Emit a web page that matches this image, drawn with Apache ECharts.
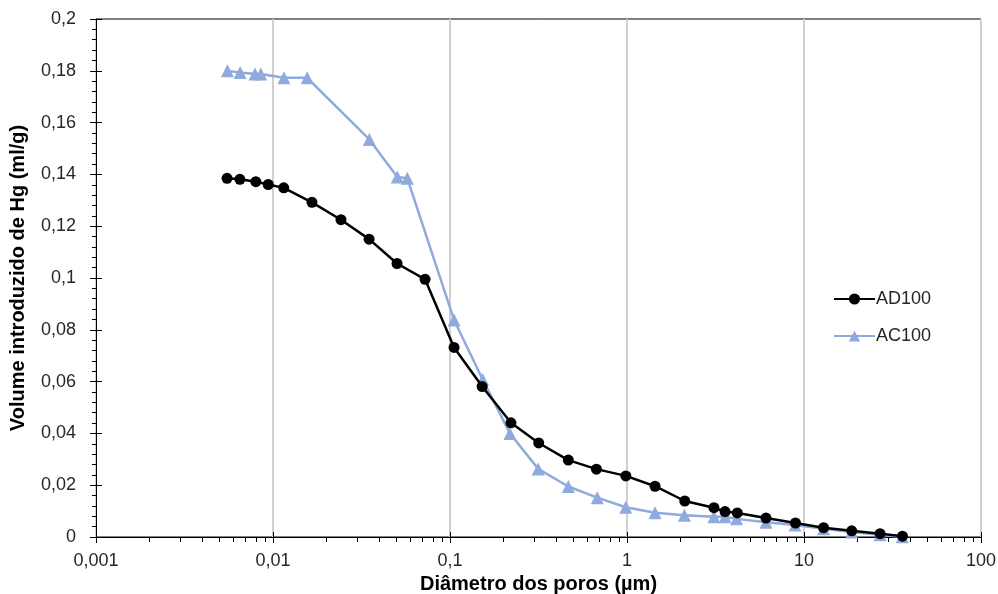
<!DOCTYPE html>
<html>
<head>
<meta charset="utf-8">
<script src="https://cdn.jsdelivr.net/npm/echarts@6/dist/echarts.min.js"></script>
<style>
html,body{margin:0;padding:0;background:#fff;}
#chart{width:998px;height:594px;}
</style>
</head>
<body>
<div id="chart"></div>
<script>
// ---- data ----
var seriesNames = ['AD100', 'AC100'];
var diamAD = [0.0055, 0.0065, 0.0080, 0.0094, 0.0115, 0.0166, 0.0242, 0.0349, 0.0502, 0.0723, 0.1054, 0.152, 0.221, 0.317, 0.466, 0.672, 0.985, 1.44, 2.12, 3.10, 3.58, 4.20, 6.1, 8.95, 12.9, 18.6, 26.9, 36.0];
var volAD  = [0.1385, 0.1381, 0.1372, 0.1361, 0.1348, 0.1292, 0.1225, 0.1150, 0.1056, 0.0995, 0.0732, 0.0581, 0.0441, 0.0363, 0.0297, 0.0262, 0.0236, 0.0196, 0.0139, 0.0113, 0.0098, 0.0093, 0.0073, 0.0054, 0.0036, 0.0024, 0.0013, 0.0003];
var diamAC = [0.00553, 0.00652, 0.00791, 0.00853, 0.01153, 0.0156, 0.035, 0.0504, 0.0574, 0.1054, 0.153, 0.218, 0.315, 0.466, 0.679, 0.984, 1.44, 2.11, 3.10, 3.58, 4.16, 6.1, 8.9, 12.9, 18.6, 26.9, 35.9];
var volAC  = [0.1800, 0.1793, 0.1788, 0.1788, 0.1773, 0.1773, 0.1535, 0.1390, 0.1385, 0.0838, 0.0608, 0.0400, 0.0263, 0.0195, 0.0152, 0.0115, 0.0094, 0.0084, 0.0078, 0.0078, 0.0070, 0.0057, 0.0046, 0.0032, 0.0019, 0.0009, 0.0001];
var xTickLabels = ['0,001', '0,01', '0,1', '1', '10', '100'];
var yTickLabels = ['0', '0,02', '0,04', '0,06', '0,08', '0,1', '0,12', '0,14', '0,16', '0,18', '0,2'];
var xTitle = 'Diâmetro dos poros (µm)';
var yTitle = 'Volume introduzido de Hg (ml/g)';

// ---- build ----
function pairs(xs, ys) { return xs.map(function (x, i) { return [x, ys[i]]; }); }
var decadeExps = [-3, -2, -1, 0, 1];
var minorXLog = [];
decadeExps.forEach(function (e) { for (var k = 2; k <= 9; k++) minorXLog.push(e + Math.log10(k)); });
function fmtX(v) {
  var e = Math.round(Math.log10(v)) + 3;
  return xTickLabels[e] !== undefined ? xTickLabels[e] : '';
}
function fmtY(v) {
  var i = Math.round(v / 0.02);
  return yTickLabels[i] !== undefined ? yTickLabels[i] : '';
}
var FONT = 'Liberation Sans';
var chart = echarts.init(document.getElementById('chart'), null, {renderer: 'canvas'});
chart.setOption({
  animation: false,
  backgroundColor: '#fff',
  grid: {left: 96, right: 17, top: 19, bottom: 57, containLabel: false, outerBoundsMode: 'none',
         show: true, borderColor: '#000', borderWidth: 1, backgroundColor: 'transparent'},
  legend: {
    orient: 'vertical', left: 828, top: 285, itemWidth: 41, itemHeight: 14, itemGap: 19,
    textStyle: {fontFamily: FONT, fontSize: 18, color: '#262626', padding: [0, 0, 0, -4]},
    data: seriesNames
  },
  xAxis: [{
    type: 'log', logBase: 10, min: 0.001, max: 100, position: 'bottom',
    name: xTitle, nameLocation: 'middle', nameGap: 37,
    nameTextStyle: {fontFamily: FONT, fontSize: 20, fontWeight: 'bold', color: '#000'},
    axisLine: {show: true, onZero: false, lineStyle: {color: '#000', width: 1}},
    axisTick: {show: true, length: 6, lineStyle: {color: '#000', width: 1}},
    axisLabel: {fontFamily: FONT, fontSize: 18, color: '#262626', margin: 15, formatter: fmtX},
    splitLine: {show: true, lineStyle: {color: '#d0d0d0', width: 2}},
    minorTick: {show: false}
  }, {
    type: 'log', logBase: 10, min: 0.001, max: 100, position: 'bottom',
    axisLine: {show: false, onZero: false}, axisLabel: {show: false}, splitLine: {show: false},
    axisTick: {show: true, inside: true, length: 5, lineStyle: {color: '#000', width: 1}}
  }, {
    type: 'value', min: -3, max: 2, position: 'bottom',
    axisLine: {show: false, onZero: false}, axisLabel: {show: false}, splitLine: {show: false},
    axisTick: {show: true, length: 5, customValues: minorXLog, lineStyle: {color: '#000', width: 1}}
  }],
  yAxis: [{
    type: 'value', min: 0, max: 0.2, interval: 0.02, position: 'left',
    name: yTitle, nameLocation: 'middle', nameGap: 68,
    nameTextStyle: {fontFamily: FONT, fontSize: 20, fontWeight: 'bold', color: '#000'},
    axisLine: {show: true, onZero: false, lineStyle: {color: '#000', width: 1}},
    axisTick: {show: true, length: 6, lineStyle: {color: '#000', width: 1}},
    minorTick: {show: true, splitNumber: 5, length: 4, lineStyle: {color: '#000', width: 1}},
    axisLabel: {fontFamily: FONT, fontSize: 18, color: '#262626', margin: 20, formatter: fmtY},
    splitLine: {show: false}
  }, {
    type: 'value', min: 0, max: 0.2, interval: 0.02, position: 'left',
    axisLine: {show: false, onZero: false}, axisLabel: {show: false}, splitLine: {show: false},
    axisTick: {show: true, inside: true, length: 6, lineStyle: {color: '#000', width: 1}}
  }],
  series: [{
    name: seriesNames[0], type: 'line', xAxisIndex: 0, yAxisIndex: 0,
    data: pairs(diamAD, volAD),
    symbol: 'circle', symbolSize: 11,
    itemStyle: {color: '#000'}, lineStyle: {color: '#000', width: 2.5},
    z: 3
  }, {
    name: seriesNames[1], type: 'line', xAxisIndex: 0, yAxisIndex: 0,
    data: pairs(diamAC, volAC),
    symbol: 'triangle', symbolSize: 13,
    itemStyle: {color: '#8FAADC'}, lineStyle: {color: '#8FAADC', width: 2.5},
    z: 2
  }]
});
</script>
</body>
</html>
